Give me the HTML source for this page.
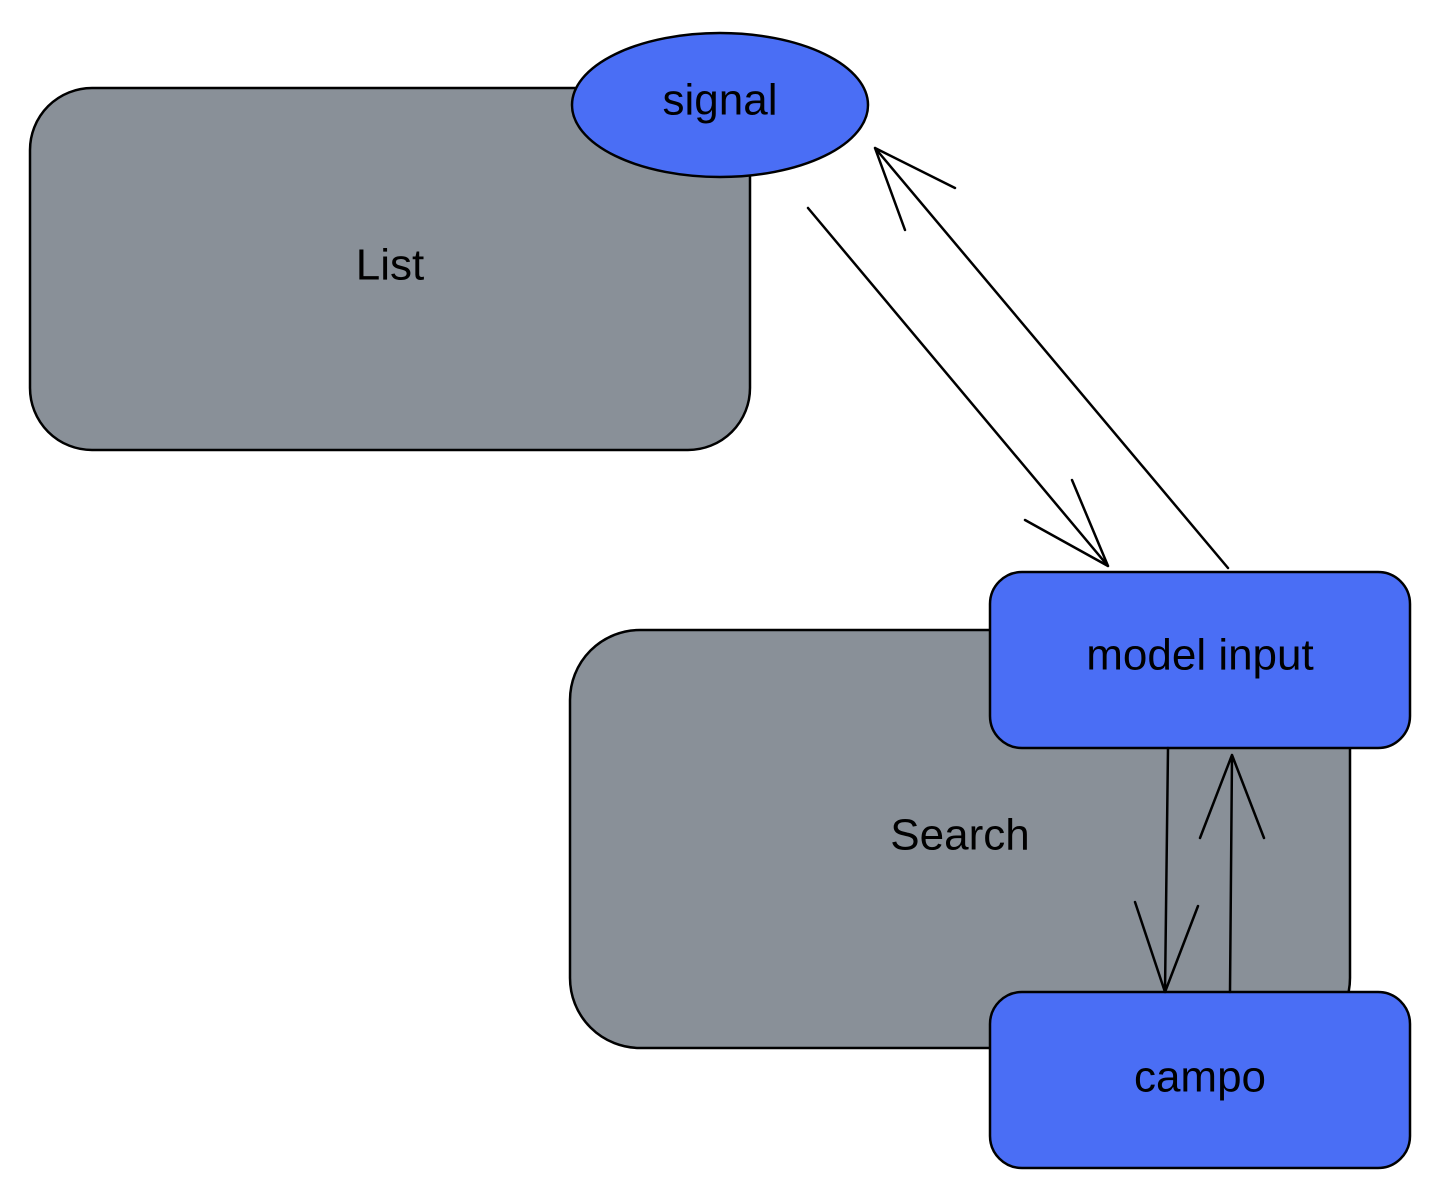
<!DOCTYPE html>
<html><head><meta charset="utf-8"><style>
html,body{margin:0;padding:0;background:#fff;}
svg{display:block}
text{font-family:"Liberation Sans",sans-serif;font-size:44px;fill:#000;text-anchor:middle;dominant-baseline:middle}
</style></head><body>
<svg width="1440" height="1200" viewBox="0 0 1440 1200">
<g stroke="#000" stroke-width="2.5" stroke-linecap="round" fill="none">
<rect x="30" y="88" width="720" height="362" rx="62" fill="#899098"/>
<rect x="570" y="630" width="780" height="418" rx="70" fill="#899098"/>
<ellipse cx="720" cy="105" rx="148" ry="72" fill="#4a6ef5"/>
<rect x="990" y="572" width="420" height="176" rx="32" fill="#4a6ef5"/>
<rect x="990" y="992" width="420" height="176" rx="32" fill="#4a6ef5"/>
<path d="M808 208 L1108 566 M1025 520 L1108 566 M1072 480 L1108 566"/>
<path d="M1228 568 L875 148 M955 188 L875 148 M905 230 L875 148"/>
<path d="M1168 748 L1165 992 M1135 902 L1165 992 M1198 906 L1165 992"/>
<path d="M1230 992 L1232 755 M1200 838 L1232 755 M1264 838 L1232 755"/>
</g>
<text x="390" y="268">List</text>
<text x="720" y="103">signal</text>
<text x="960" y="838">Search</text>
<text x="1200" y="658">model input</text>
<text x="1200" y="1080">campo</text>
</svg>
</body></html>
